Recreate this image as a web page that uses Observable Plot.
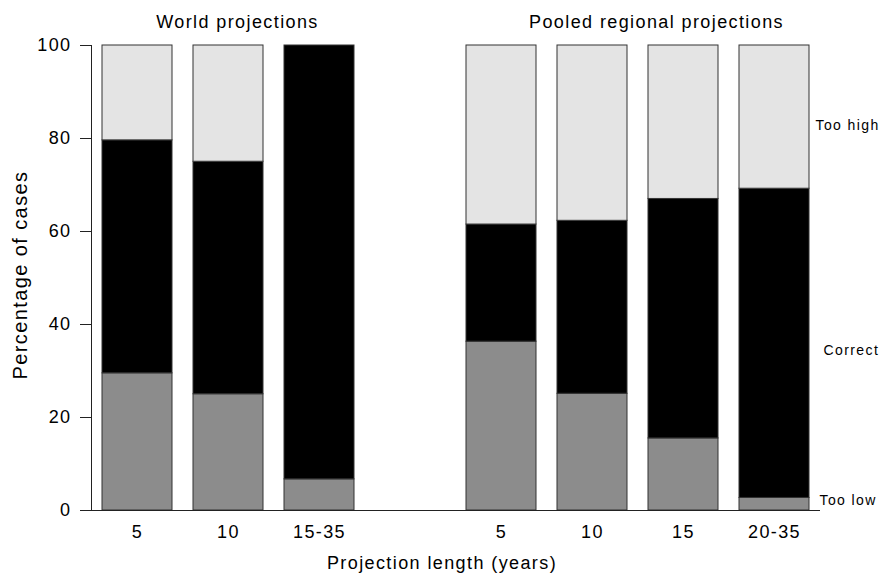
<!DOCTYPE html>
<html>
<head>
<meta charset="utf-8">
<script src="https://cdn.jsdelivr.net/npm/d3@7"></script>
<script src="https://cdn.jsdelivr.net/npm/@observablehq/plot@0.6"></script>
<style>
  html, body { margin: 0; padding: 0; background: #fff; }
</style>
</head>
<body>
<div id="chart"></div>
<script>
// ---- data ----
const groups = ["World projections", "Pooled regional projections"];
const outcomes = ["Too low", "Correct", "Too high"];

const worldLengths = ["5", "10", "15-35"];
const worldTooLow   = [29.5, 25.0, 6.7];
const worldCorrect  = [50.1, 50.0, 93.3];
const worldTooHigh  = [20.4, 25.0, 0.0];

const regionalLengths = ["5", "10", "15", "20-35"];
const regionalTooLow  = [36.3, 25.1, 15.5, 2.7];
const regionalCorrect = [25.2, 37.2, 51.5, 66.5];
const regionalTooHigh = [38.5, 37.7, 33.0, 30.8];

const xLabel = "Projection length (years)";
const yLabel = "Percentage of cases";
const yTicks = [0, 20, 40, 60, 80, 100];

// ---- build table ----
const rows = [];
function addGroup(gi, lengths, low, corr, high) {
  lengths.forEach((len, i) => {
    const key = gi + "|" + len;
    rows.push({key, outcome: "Too low", value: low[i]});
    rows.push({key, outcome: "Correct", value: corr[i]});
    rows.push({key, outcome: "Too high", value: high[i]});
  });
}
addGroup(0, worldLengths, worldTooLow, worldCorrect, worldTooHigh);
addGroup(1, regionalLengths, regionalTooLow, regionalCorrect, regionalTooHigh);

const xDomain = [
  ...worldLengths.map(l => "0|" + l),
  "gap",
  ...regionalLengths.map(l => "1|" + l)
];

// label positions: midpoints of the last bar's segments
const last = regionalLengths.length - 1;
const lastKey = "1|" + regionalLengths[last];
const segMid = [
  regionalTooLow[last] / 2,
  regionalTooLow[last] + regionalCorrect[last] / 2,
  regionalTooLow[last] + regionalCorrect[last] + regionalTooHigh[last] / 2
];

const font = "'Liberation Sans', Arial, Helvetica, sans-serif";

const chart = Plot.plot({
  width: 882,
  height: 578,
  marginLeft: 91,
  marginRight: 62,
  marginTop: 45,
  marginBottom: 68,
  style: {fontFamily: font, fontSize: "18px", letterSpacing: "1.4px", color: "#000", background: "#fff"},
  x: {domain: xDomain, paddingInner: 0.23, paddingOuter: 0.12},
  y: {domain: [0, 100]},
  color: {domain: outcomes, range: ["#8c8c8c", "#000000", "#e4e4e4"]},
  marks: [
    Plot.barY(rows, Plot.stackY({
      x: "key", y: "value", fill: "outcome", z: "outcome",
      stroke: "#333", strokeWidth: 1
    })),
    Plot.frame({anchor: "left", stroke: "#222"}),
    Plot.ruleY([0], {stroke: "#222"}),
    Plot.axisY({
      ticks: yTicks, tickSize: 11, tickPadding: 9, stroke: "#222", label: null
    }),
    Plot.axisX({
      tickSize: 0, tickPadding: 15, label: null,
      tickFormat: d => d === "gap" ? "" : d.split("|")[1]
    }),
    // y axis title
    Plot.text([yLabel], {frameAnchor: "left", dx: -79, dy: -3, rotate: -90, lineAnchor: "top", fontSize: 20, textAnchor: "middle"}),
    // x axis title centred on the figure
    Plot.text([xLabel], {frameAnchor: "bottom", dx: -14, dy: 53, lineAnchor: "middle", fontSize: 18}),
    // panel titles
    Plot.text([groups[0]], {x: () => "0|" + worldLengths[1], frameAnchor: "top", dx: 9, dy: -23, lineAnchor: "middle", fontSize: 18}),
    Plot.text([groups[1]], {x: () => "1|" + regionalLengths[2], frameAnchor: "top", dx: -27, dy: -23, lineAnchor: "middle", fontSize: 18}),
    // outcome labels to the right of the last bar
    Plot.text([outcomes[2]], {x: () => lastKey, y: () => segMid[2], dx: 41, dy: 8, textAnchor: "start", fontSize: 14}),
    Plot.text([outcomes[1]], {x: () => lastKey, y: () => segMid[1], dx: 49, dy: 7, textAnchor: "start", fontSize: 14}),
    Plot.text([outcomes[0]], {x: () => lastKey, y: () => segMid[0], dx: 45, dy: -4, textAnchor: "start", fontSize: 14})
  ]
});
document.getElementById("chart").appendChild(chart);
</script>
</body>
</html>
